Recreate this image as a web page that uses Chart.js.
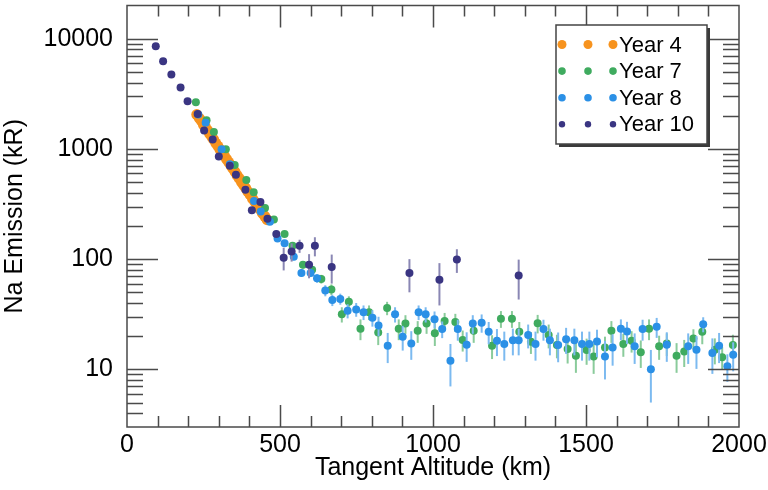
<!DOCTYPE html>
<html>
<head>
<meta charset="utf-8">
<script src="https://cdn.jsdelivr.net/npm/chart.js@4/dist/chart.umd.min.js"></script>
<style>
  html, body { margin: 0; padding: 0; background: #fff; }
  #wrap { width: 768px; height: 490px; }
</style>
</head>
<body>
<div id="wrap"><canvas id="myChart" width="768" height="490"></canvas></div>
<script>
// Tangent altitude (km), Na emission (kR), 1-sigma error (kR)
var year4Alt = [228, 236, 243, 250, 256, 263, 270, 276, 283, 290, 297, 304, 311, 318, 325, 332, 339,
                346, 353, 360, 367, 374, 381, 388, 395, 402, 410, 418, 426, 434, 442, 450, 458];
var year4Val = [2050, 1900, 1800, 1650, 1580, 1480, 1380, 1300, 1220, 1130, 1060, 990, 930, 870, 810, 760, 710,
                665, 620, 575, 540, 500, 470, 440, 410, 385, 355, 330, 305, 285, 262, 245, 228];

var year7Alt = [225, 260, 284, 323, 352, 390, 414, 451, 480, 515, 541, 575, 605, 635, 668, 702, 725, 763, 791,
                821, 850, 888, 910, 950, 979, 1006, 1038, 1073, 1097, 1133, 1193, 1222, 1258, 1282, 1320, 1342,
                1378, 1405, 1440, 1467, 1502, 1525, 1562, 1583, 1622, 1649, 1679, 1706, 1739, 1764, 1796, 1821,
                1851, 1880, 1921, 1945, 1980];
var year7Val = [2645, 1820, 1420, 992, 713, 522, 405, 291, 229, 169, 132, 89, 80, 66, 53, 31.6, 41, 23.4, 33,
                21.6, 36, 23.4, 26, 22.4, 26, 21.3, 27.5, 26.9, 18.5, 22.4, 16.4, 28.8, 28.8, 21.9, 17.8, 26.2,
                20.5, 16.6, 15.3, 13.3, 15, 13.1, 15.8, 22.4, 17, 18.2, 14.3, 23.4, 16.2, 17.2, 13.3, 14.5,
                19.1, 21.9, 15.1, 12.9, 16.6];
var year7Err = [0, 0, 0, 0, 0, 0, 0, 0, 0, 8, 8, 7, 6, 6, 6, 5, 5, 5, 5,
                5, 5, 5, 5, 5, 5, 5, 5, 5, 4, 5, 4, 5, 5, 5, 4, 5,
                5, 4, 4, 4, 4, 4, 4, 5, 4, 4, 4, 5, 4, 4, 4, 4,
                4, 5, 4, 3, 4];

var year8Alt = [233, 257, 309, 336, 415, 437, 467, 492, 515, 545, 570, 600, 621, 648, 671, 697, 721, 749, 773,
                802, 822, 852, 876, 901, 929, 953, 976, 1005, 1030, 1057, 1081, 1110, 1130, 1159, 1182, 1209,
                1233, 1261, 1280, 1311, 1335, 1361, 1382, 1409, 1435, 1462, 1487, 1511, 1536, 1562, 1587, 1614,
                1634, 1659, 1685, 1712, 1731, 1764, 1834, 1861, 1883, 1913, 1935, 1962, 1981];
var year8Val = [2047, 1725, 992, 727, 336, 271, 218, 154, 139, 105, 75, 75, 67, 52, 42.5, 43.6, 34, 35, 33,
                29.4, 25, 16.4, 31.6, 19.8, 17.2, 33, 31.6, 28.5, 23.2, 12, 23.2, 16.7, 26, 26.5, 21.9, 18.2,
                17, 18.4, 18.4, 20.5, 17, 23.2, 18.4, 16.6, 18.8, 18.4, 17, 17, 17.9, 13.1, 15.8, 23.4,
                22, 16.2, 23.2, 10, 24.3, 16.7, 16.2, 15.1, 25.7, 14.1, 16.4, 10.7, 13.6];
var year8Err = [0, 0, 0, 0, 0, 0, 0, 6, 6, 7, 6, 6, 6, 6, 5, 5, 5, 5, 5,
                5, 5, 5, 5, 5, 5, 5, 5, 5, 4, 5, 5, 5, 5, 5, 5, 5,
                5, 5, 5, 5, 5, 5, 5, 5, 5, 5, 5, 5, 5, 5, 5, 5,
                5, 5, 5, 5, 5, 5, 5, 5, 4, 5, 5, 3, 4];

var year10Alt = [94, 118, 145, 175, 198, 231, 252, 280, 300, 336, 356, 387, 408, 436, 459, 488, 512,
                 538, 564, 595, 614, 669, 923, 1021, 1078, 1280];
var year10Val = [8530, 6250, 4720, 3600, 2700, 2075, 1470, 1220, 853, 703, 584, 425, 277, 330, 233, 169, 103,
                 117, 132, 89, 132, 85, 75, 65, 99, 71];
var year10Err = [0, 0, 0, 0, 0, 0, 0, 0, 0, 0, 0, 0, 0, 0, 0, 12, 24,
                 22, 18, 22, 26, 25, 25, 27, 24, 28];

var seriesNames = ['Year 4', 'Year 7', 'Year 8', 'Year 10'];
var seriesColors = ['#f7931e', '#3fab5f', '#2b90e6', '#3a3582'];
var errorColors = ['#f9b868', '#8acb9b', '#7cbaf0', '#8a87b4'];

var xTicks = [0, 500, 1000, 1500, 2000];
var yTicks = [10, 100, 1000, 10000];
var xMin = 0, xMax = 2000, yMin = 3, yMax = 20000;

var FONT = "'Liberation Sans', Arial, Helvetica, sans-serif";

function points(alt, val) {
    return alt.map(function(a, i) { return { x: a, y: val[i] }; });
}

// error bars, inward ticks on four sides, boxed legend
var framePlugin = {
    id: 'frame',
    beforeDatasetDraw: function(chart, args) {
        var ds = chart.data.datasets[args.index];
        if (!ds.errors) return;
        var ctx = chart.ctx, xs = chart.scales.x, ys = chart.scales.y;
        ctx.save();
        ctx.strokeStyle = ds.errColor;
        ctx.lineWidth = 2;
        ds.data.forEach(function(p, i) {
            var e = ds.errors[i];
            if (!e) return;
            var px = xs.getPixelForValue(p.x);
            var lo = Math.max(p.y - e, yMin);
            ctx.beginPath();
            ctx.moveTo(px, ys.getPixelForValue(p.y + e));
            ctx.lineTo(px, ys.getPixelForValue(lo));
            ctx.stroke();
        });
        ctx.restore();
    },
    afterDraw: function(chart) {
        var ctx = chart.ctx, a = chart.chartArea;
        var xs = chart.scales.x, ys = chart.scales.y;
        ctx.save();
        ctx.strokeStyle = '#4a4a4a';
        ctx.lineWidth = 1.5;
        ctx.strokeRect(a.left, a.top, a.right - a.left, a.bottom - a.top);

        ctx.beginPath();
        for (var v = 100; v < xMax; v += 100) {
            var px = Math.round(xs.getPixelForValue(v)) + 0.5;
            var len = (v % 500 === 0) ? 22 : 11;
            ctx.moveTo(px, a.bottom); ctx.lineTo(px, a.bottom - len);
            ctx.moveTo(px, a.top); ctx.lineTo(px, a.top + len);
        }
        for (var d = 0; d <= 4; d++) {
            for (var m = 1; m <= 9; m++) {
                var val = m * Math.pow(10, d);
                if (val <= yMin || val >= yMax) continue;
                var py = Math.round(ys.getPixelForValue(val)) + 0.5;
                var l = (m === 1) ? 31 : 16;
                ctx.moveTo(a.left, py); ctx.lineTo(a.left + l, py);
                ctx.moveTo(a.right, py); ctx.lineTo(a.right - l, py);
            }
        }
        ctx.stroke();

        // legend
        var bx = 556, by = 25, bw = 151, bh = 119;
        ctx.fillStyle = '#3a3a3a';
        ctx.fillRect(bx + 3, by + 3, bw, bh);
        ctx.fillStyle = '#fff';
        ctx.fillRect(bx, by, bw, bh);
        ctx.strokeStyle = '#444';
        ctx.lineWidth = 1.5;
        ctx.strokeRect(bx, by, bw, bh);
        var radii = [4.5, 3.8, 3.8, 3.2];
        ctx.font = '22px ' + FONT;
        ctx.textBaseline = 'middle';
        seriesNames.forEach(function(name, i) {
            var cy = 44.5 + i * 26.6;
            ctx.fillStyle = seriesColors[i];
            [562, 588, 613].forEach(function(cx) {
                ctx.beginPath();
                ctx.arc(cx, cy, radii[i], 0, Math.PI * 2);
                ctx.fill();
            });
            ctx.fillStyle = '#000';
            ctx.fillText(name, 619, cy + 1);
        });
        ctx.restore();
    }
};

var alts = [year4Alt, year7Alt, year8Alt, year10Alt];
var vals = [year4Val, year7Val, year8Val, year10Val];
var errs = [null, year7Err, year8Err, year10Err];
var drawOrder = [3, 2, 1, 0];

var datasets = seriesNames.map(function(name, i) {
    return {
        label: name,
        data: points(alts[i], vals[i]),
        errors: errs[i],
        errColor: errorColors[i],
        backgroundColor: seriesColors[i],
        borderColor: seriesColors[i],
        borderWidth: 0,
        pointRadius: i === 0 ? 5.5 : 4,
        pointHoverRadius: 4,
        showLine: false,
        order: drawOrder[i]
    };
});

var ctx = document.getElementById('myChart');
var myChart = new Chart(ctx, {
    type: 'scatter',
    data: { datasets: datasets },
    options: {
        responsive: false,
        devicePixelRatio: 1,
        animation: false,
        layout: { padding: { left: 0, right: 29, top: 1, bottom: 0 } },
        plugins: { legend: { display: false }, tooltip: { enabled: false } },
        scales: {
            x: {
                type: 'linear',
                min: xMin, max: xMax,
                afterBuildTicks: function(scale) {
                    scale.ticks = xTicks.map(function(v) { return { value: v }; });
                },
                afterFit: function(scale) {
                    scale.height = 63;
                    scale.paddingLeft = 0; scale.paddingRight = 0;
                },
                grid: { display: false, drawTicks: false, tickLength: 0 },
                border: { display: false },
                ticks: { color: '#000', padding: 3, maxRotation: 0, autoSkip: false,
                         font: { family: FONT, size: 25 },
                         callback: function(v) { return String(v); } },
                title: { display: true, text: 'Tangent Altitude (km)', color: '#000',
                         padding: { top: 0, bottom: 7 }, font: { family: FONT, size: 25 } }
            },
            y: {
                type: 'logarithmic',
                min: yMin, max: yMax,
                afterBuildTicks: function(scale) {
                    scale.ticks = yTicks.map(function(v) { return { value: v }; });
                },
                afterFit: function(scale) {
                    scale.width = 127;
                    scale.paddingTop = 0; scale.paddingBottom = 0;
                },
                grid: { display: false, drawTicks: false, tickLength: 0 },
                border: { display: false },
                ticks: { color: '#000', padding: 14, autoSkip: false,
                         font: { family: FONT, size: 25 },
                         callback: function(v) { return String(v); } },
                title: { display: true, text: 'Na Emission (kR)', color: '#000',
                         padding: { top: 0, bottom: 0 }, font: { family: FONT, size: 25 } }
            }
        }
    },
    plugins: [framePlugin]
});
</script>
</body>
</html>
